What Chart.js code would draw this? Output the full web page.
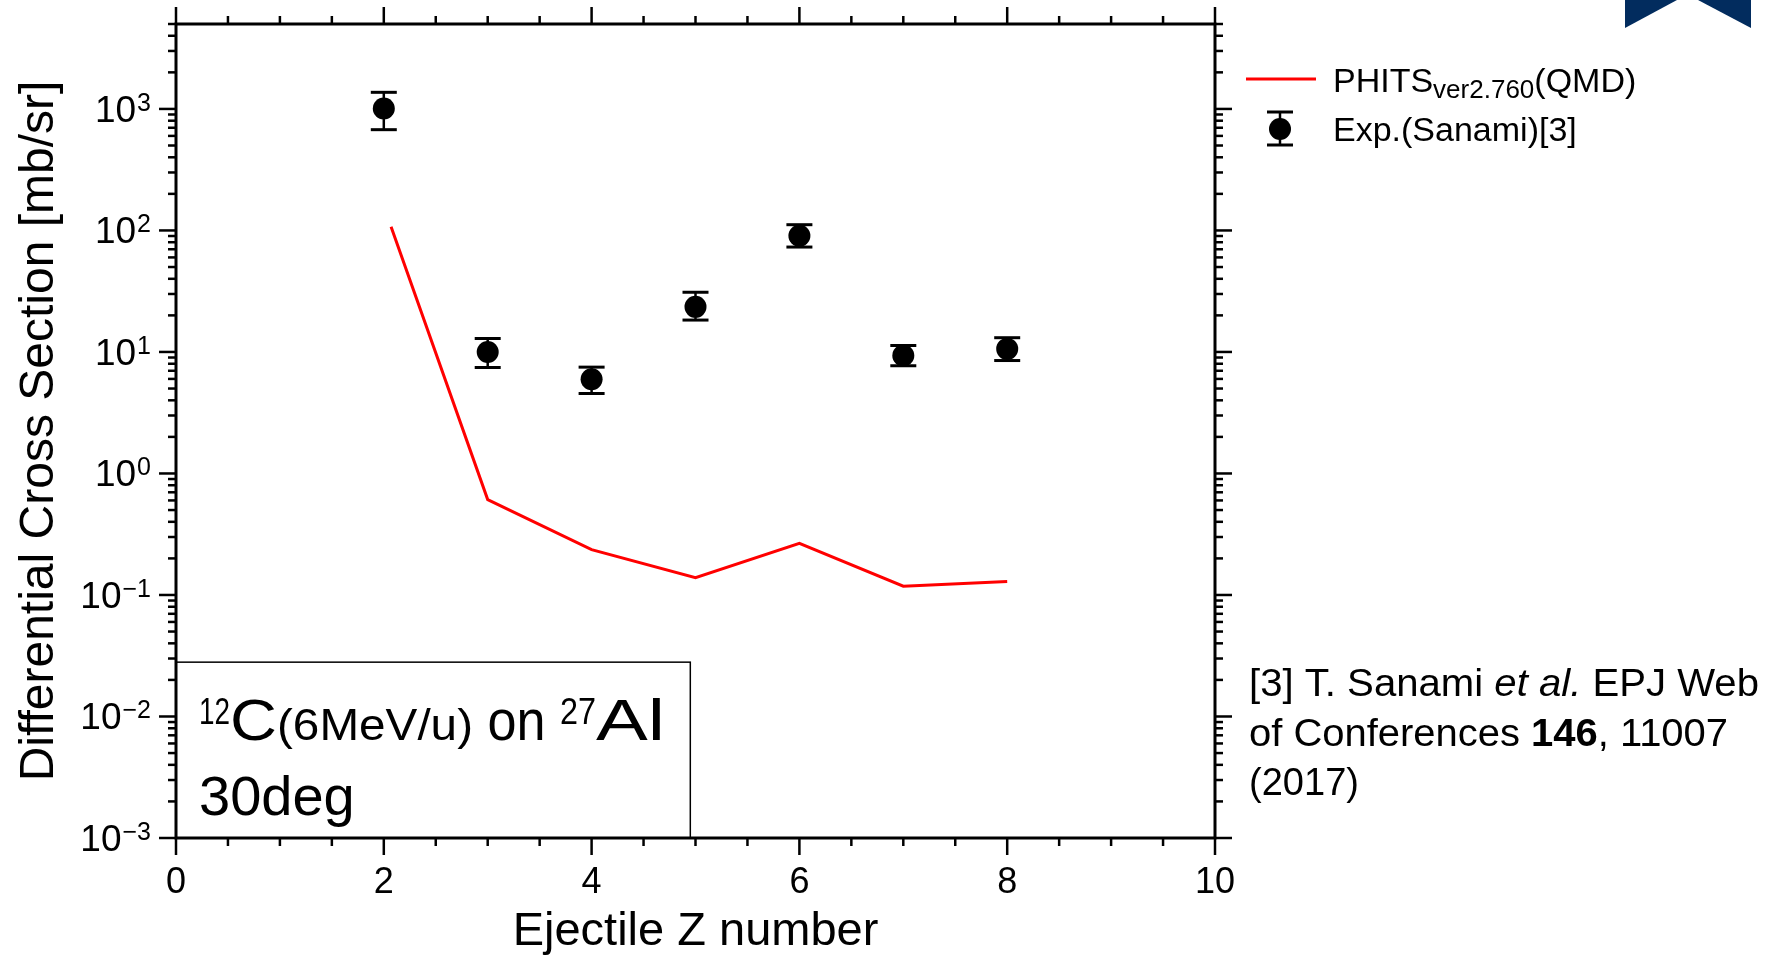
<!DOCTYPE html>
<html>
<head>
<meta charset="utf-8">
<title>Ejectile Z distribution</title>
<script src="https://cdn.jsdelivr.net/npm/chart.js@4.4.1/dist/chart.umd.min.js"></script>
<style>
    html, body { margin: 0; padding: 0; background: #fff; }
    #wrap { width: 1771px; height: 959px; }
</style>
</head>
<body>
<div id="wrap"><canvas id="chart" width="1771" height="959"></canvas></div>
<script>
// 12C (6 MeV/u) on 27Al, 30 deg - cross section by ejectile Z

// Experiment (Sanami) with error bar ends
const zNumbers = [2, 3, 4, 5, 6, 7, 8];
const expValues = [1010, 10.0, 5.96, 23.5, 90.5, 9.35, 10.6];
const expUpper = [1370, 12.9, 7.5, 31.0, 111.5, 11.3, 13.1];
const expLower = [675, 7.45, 4.55, 18.3, 73.0, 7.7, 8.5];

// PHITS ver2.760 (QMD)
const phitsZ = [2.07, 3, 4, 5, 6, 7, 8];
const phitsValues = [107, 0.61, 0.236, 0.139, 0.266, 0.118, 0.129];

// axis ticks
const xTickLabels = [0, 2, 4, 6, 8, 10];
const yDecades = [-3, -2, -1, 0, 1, 2, 3];

const FONT = "'Liberation Sans', Arial, Helvetica, sans-serif";

function font(size, style) {
    return (style ? style + ' ' : '') + size + 'px ' + FONT;
}

// Draw a row of text runs; each run may be squeezed to a width with "fit",
// or the whole row can be fitted to "width"
function drawRuns(ctx, x, y, runs, width) {
    let natural = 0;
    runs.forEach(r => {
        ctx.font = r.font;
        r.w = ctx.measureText(r.text).width;
        natural += r.fit || r.w;
    });
    const sx = width ? width / natural : 1;
    ctx.save();
    ctx.translate(x, y);
    ctx.scale(sx, 1);
    ctx.textAlign = 'left';
    ctx.textBaseline = 'alphabetic';
    let cx = 0;
    runs.forEach(r => {
        ctx.font = r.font;
        ctx.save();
        ctx.translate(cx, r.dy || 0);
        if (r.fit) ctx.scale(r.fit / r.w, 1);
        ctx.fillText(r.text, 0, 0);
        ctx.restore();
        cx += r.fit || r.w;
    });
    ctx.restore();
}

function line(ctx, x1, y1, x2, y2) {
    ctx.beginPath();
    ctx.moveTo(x1, y1);
    ctx.lineTo(x2, y2);
    ctx.stroke();
}

const frame = {
    id: 'frame',
    beforeDatasetsDraw(chart) {
        const { ctx, chartArea: a, scales: { x, y } } = chart;
        ctx.save();

        // label box in the lower left corner
        const bx = x.getPixelForValue(4.95);
        const by = y.getPixelForValue(0.028);
        ctx.fillStyle = '#fff';
        ctx.fillRect(a.left, by, bx - a.left, a.bottom - by);
        ctx.strokeStyle = '#000';
        ctx.lineWidth = 1.5;
        ctx.strokeRect(a.left, by, bx - a.left, a.bottom - by);

        // error bars of the experiment
        ctx.lineWidth = 2.5;
        zNumbers.forEach((z, i) => {
            const px = x.getPixelForValue(z);
            const top = y.getPixelForValue(expUpper[i]);
            const bot = y.getPixelForValue(expLower[i]);
            line(ctx, px, top, px, bot);
            ctx.lineWidth = 3;
            line(ctx, px - 13, top, px + 13, top);
            line(ctx, px - 13, bot, px + 13, bot);
            ctx.lineWidth = 2.5;
        });
        ctx.restore();
    },
    afterDraw(chart) {
        const { ctx, chartArea: a, scales: { x, y } } = chart;
        ctx.save();
        ctx.strokeStyle = '#000';
        ctx.fillStyle = '#000';

        // ticks, pointing outwards on all four sides
        ctx.lineWidth = 2.5;
        for (let v = 0; v <= 10; v += 0.5) {
            const px = x.getPixelForValue(v);
            const len = v % 2 === 0 ? 17 : 8;
            line(ctx, px, a.bottom, px, a.bottom + len);
            line(ctx, px, a.top, px, a.top - len);
        }
        yDecades.forEach(d => {
            for (let k = 1; k <= 9; k++) {
                const v = k * Math.pow(10, d);
                if (v > 5000) break;
                const py = y.getPixelForValue(v);
                const len = k === 1 ? 17 : 8;
                line(ctx, a.left - len, py, a.left, py);
                line(ctx, a.right, py, a.right + len, py);
            }
        });

        // frame
        ctx.lineWidth = 3;
        ctx.strokeRect(a.left, a.top, a.right - a.left, a.bottom - a.top);

        // x tick labels
        ctx.font = font(36);
        ctx.textAlign = 'center';
        ctx.textBaseline = 'alphabetic';
        xTickLabels.forEach(v => {
            ctx.fillText(String(v), x.getPixelForValue(v), a.bottom + 55);
        });

        // y tick labels 10^n
        yDecades.forEach(d => {
            const py = y.getPixelForValue(Math.pow(10, d));
            const exp = d < 0 ? '\u2212' + (-d) : String(d);
            const right = a.left - 25;
            ctx.textAlign = 'right';
            ctx.font = font(25);
            const ew = ctx.measureText(exp).width;
            ctx.fillText(exp, right, py + 2);
            ctx.font = font(37);
            ctx.fillText('10', right - ew - 1, py + 13);
        });

        // axis titles
        ctx.textAlign = 'center';
        ctx.font = font(47);
        ctx.fillText('Ejectile Z number', (a.left + a.right) / 2, 945);
        ctx.save();
        ctx.translate(53, (a.top + a.bottom) / 2);
        ctx.rotate(-Math.PI / 2);
        ctx.font = font(48);
        ctx.fillText('Differential Cross Section [mb/sr]', 0, 0);
        ctx.restore();

        // text inside the label box
        drawRuns(ctx, 199, 740, [
            { text: '12', font: font(36), dy: -16, fit: 31 },
            { text: 'C', font: font(58), fit: 47 },
            { text: '(6MeV/u)', font: font(44), fit: 196 },
            { text: ' on ', font: font(57), fit: 87 },
            { text: '27', font: font(36), dy: -16, fit: 36 },
            { text: 'Al', font: font(58), fit: 69 }
        ]);
        drawRuns(ctx, 199, 815, [{ text: '30deg', font: font(56) }]);

        // legend
        ctx.strokeStyle = '#ff0000';
        ctx.lineWidth = 3;
        line(ctx, 1246, 79, 1316, 79);
        drawRuns(ctx, 1333, 92, [
            { text: 'PHITS', font: font(34) },
            { text: 'ver2.760', font: font(26), dy: 6 },
            { text: '(QMD)', font: font(34) }
        ]);
        ctx.strokeStyle = '#000';
        ctx.lineWidth = 2.5;
        line(ctx, 1280, 112, 1280, 145);
        ctx.lineWidth = 3;
        line(ctx, 1267, 112, 1293, 112);
        line(ctx, 1267, 145, 1293, 145);
        ctx.beginPath();
        ctx.arc(1280, 129, 11, 0, Math.PI * 2);
        ctx.fill();
        drawRuns(ctx, 1333, 141, [{ text: 'Exp.(Sanami)[3]', font: font(34) }]);

        // reference
        drawRuns(ctx, 1249, 696, [
            { text: '[3] T. Sanami ', font: font(38) },
            { text: 'et al.', font: font(38, 'italic') },
            { text: ' EPJ Web', font: font(38) }
        ], 510);
        drawRuns(ctx, 1249, 746, [
            { text: 'of Conferences ', font: font(38) },
            { text: '146', font: font(38, 'bold') },
            { text: ', 11007', font: font(38) }
        ], 479);
        drawRuns(ctx, 1249, 795, [{ text: '(2017)', font: font(38) }], 110);

        // corner mark, top right
        ctx.fillStyle = '#022c5e';
        ctx.beginPath();
        ctx.moveTo(1625, 0); ctx.lineTo(1677, 0); ctx.lineTo(1625, 28);
        ctx.closePath();
        ctx.fill();
        ctx.beginPath();
        ctx.moveTo(1698, 0); ctx.lineTo(1751, 0); ctx.lineTo(1751, 28);
        ctx.closePath();
        ctx.fill();

        ctx.restore();
    }
};

new Chart(document.getElementById('chart'), {
    data: {
        datasets: [
            {
                type: 'line',
                label: 'PHITS ver2.760 (QMD)',
                data: phitsZ.map((z, i) => ({ x: z, y: phitsValues[i] })),
                borderColor: '#ff0000',
                borderWidth: 3,
                pointRadius: 0,
                tension: 0,
                fill: false
            },
            {
                type: 'scatter',
                label: 'Exp.(Sanami)[3]',
                data: zNumbers.map((z, i) => ({ x: z, y: expValues[i] })),
                backgroundColor: '#000',
                borderWidth: 0,
                pointRadius: 11,
                pointHoverRadius: 11
            }
        ]
    },
    options: {
        responsive: false,
        animation: false,
        devicePixelRatio: 1,
        layout: {
            padding: { left: 176, right: 556, top: 24, bottom: 121 }
        },
        plugins: {
            legend: { display: false },
            tooltip: { enabled: false }
        },
        scales: {
            x: { type: 'linear', min: 0, max: 10, display: false },
            y: { type: 'logarithmic', min: 0.001, max: 5000, display: false }
        }
    },
    plugins: [frame]
});
</script>
</body>
</html>
